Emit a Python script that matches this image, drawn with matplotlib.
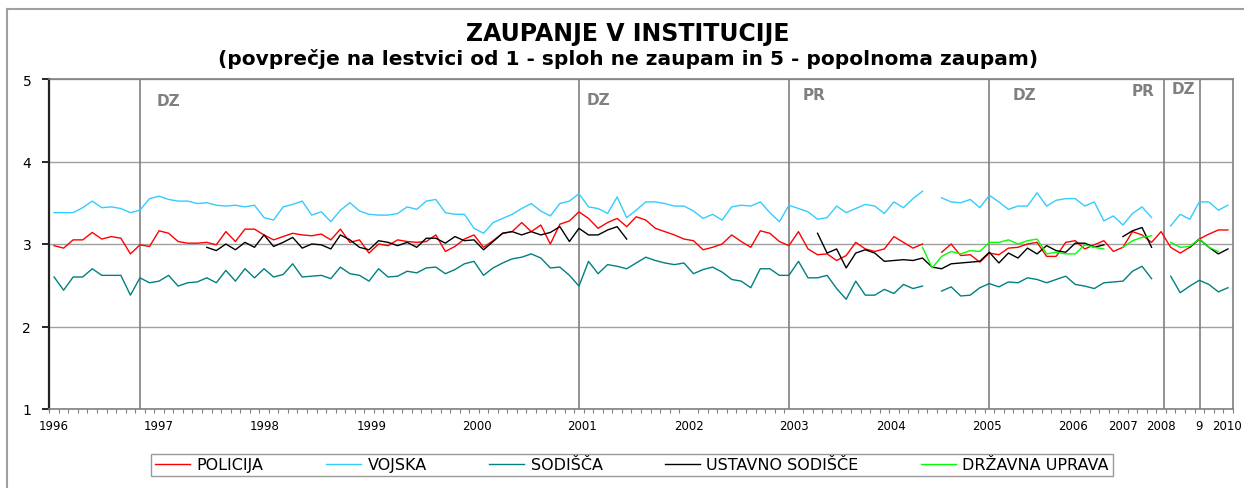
import numpy as np
import matplotlib
matplotlib.use("Agg")
import matplotlib.pyplot as plt
from matplotlib.lines import Line2D

nan = np.nan

# one value per survey (124 surveys, 1996 - 2010), nan = no data
policija = [
    2.98, 2.95, 3.05, 3.05, 3.14, 3.06, 3.09, 3.07, 2.88, 2.99,
    2.97, 3.16, 3.13, 3.03, 3.01, 3.01, 3.02, 2.99, 3.15, 3.03,
    3.18, 3.18, 3.11, 3.05, 3.09, 3.13, 3.11, 3.10, 3.12, 3.05,
    3.18, 3.02, 3.05, 2.89, 3.00, 2.98, 3.05, 3.03, 3.02, 3.03,
    3.11, 2.91, 2.97, 3.06, 3.11, 2.96, 3.04, 3.13, 3.15, 3.26,
    3.15, 3.23, 3.00, 3.24, 3.28, 3.39, 3.31, 3.19, 3.26, 3.31,
    3.21, 3.33, 3.29, 3.19, 3.15, 3.11, 3.06, 3.04, 2.93, 2.96,
    3.00, 3.11, 3.03, 2.96, 3.16, 3.13, 3.03, 2.98, 3.15, 2.94,
    2.87, 2.88, 2.80, 2.86, 3.02, 2.94, 2.91, 2.94, 3.09, 3.02,
    2.95, 3.00, nan, 2.90, 3.00, 2.86, 2.87, 2.78, 2.89, 2.87,
    2.95, 2.96, 3.00, 3.02, 2.85, 2.85, 3.02, 3.04, 2.94, 2.99,
    3.04, 2.91, 2.96, 3.15, 3.11, 3.02, 3.15, 2.96, 2.89, 2.96,
    3.06, 3.12, 3.17, 3.17,
]
vojska = [
    3.38, 3.38, 3.38, 3.44, 3.52, 3.44, 3.45, 3.43, 3.38, 3.41,
    3.55, 3.58, 3.54, 3.52, 3.52, 3.49, 3.50, 3.47, 3.46, 3.47,
    3.45, 3.47, 3.32, 3.29, 3.45, 3.48, 3.52, 3.35, 3.39, 3.27,
    3.41, 3.50, 3.40, 3.36, 3.35, 3.35, 3.37, 3.45, 3.42, 3.52,
    3.54, 3.38, 3.36, 3.36, 3.19, 3.13, 3.26, 3.31, 3.36, 3.43,
    3.49, 3.40, 3.34, 3.49, 3.52, 3.61, 3.45, 3.43, 3.37, 3.57,
    3.32, 3.41, 3.51, 3.51, 3.49, 3.46, 3.46, 3.40, 3.31, 3.36,
    3.29, 3.45, 3.47, 3.46, 3.51, 3.38, 3.27, 3.47, 3.43, 3.39,
    3.30, 3.32, 3.46, 3.38, 3.43, 3.48, 3.46, 3.37, 3.51, 3.44,
    3.55, 3.64, nan, 3.56, 3.51, 3.50, 3.54, 3.44, 3.59, 3.51,
    3.42, 3.46, 3.46, 3.62, 3.46, 3.53, 3.55, 3.55, 3.46, 3.51,
    3.28, 3.34, 3.23, 3.37, 3.45, 3.32, nan, 3.22, 3.36, 3.30,
    3.51, 3.51, 3.41, 3.47,
]
sodisca = [
    2.60, 2.44, 2.60, 2.60, 2.70, 2.62, 2.62, 2.62, 2.38, 2.59,
    2.53, 2.55, 2.62, 2.49, 2.53, 2.54, 2.59, 2.53, 2.68, 2.55,
    2.70, 2.59, 2.70, 2.60, 2.63, 2.76, 2.60, 2.61, 2.62, 2.58,
    2.72, 2.64, 2.62, 2.55, 2.70, 2.60, 2.61, 2.67, 2.65, 2.71,
    2.72, 2.64, 2.69, 2.76, 2.79, 2.62, 2.71, 2.77, 2.82, 2.84,
    2.88, 2.83, 2.71, 2.72, 2.62, 2.49, 2.79, 2.64, 2.75, 2.73,
    2.70, 2.77, 2.84, 2.80, 2.77, 2.75, 2.77, 2.64, 2.69, 2.72,
    2.66, 2.57, 2.55, 2.47, 2.70, 2.70, 2.62, 2.62, 2.79, 2.59,
    2.59, 2.62, 2.46, 2.33, 2.55, 2.38, 2.38, 2.45, 2.40, 2.51,
    2.46, 2.49, nan, 2.43, 2.48, 2.37, 2.38, 2.47, 2.52, 2.48,
    2.54, 2.53, 2.59, 2.57, 2.53, 2.57, 2.61, 2.51, 2.49, 2.46,
    2.53, 2.54, 2.55, 2.67, 2.73, 2.58, nan, 2.61, 2.41, 2.49,
    2.56, 2.51, 2.42, 2.47,
]
ustavno = [
    nan, nan, nan, nan, nan, nan, nan, nan, nan, nan,
    nan, nan, nan, nan, nan, nan, 2.96, 2.92, 3.00, 2.93,
    3.02, 2.96, 3.11, 2.97, 3.02, 3.08, 2.95, 3.00, 2.99, 2.94,
    3.11, 3.05, 2.96, 2.93, 3.04, 3.02, 2.98, 3.02, 2.96, 3.07,
    3.07, 3.01, 3.09, 3.04, 3.05, 2.93, 3.03, 3.13, 3.15, 3.11,
    3.15, 3.11, 3.14, 3.21, 3.03, 3.19, 3.11, 3.11, 3.17, 3.21,
    3.06, nan, nan, nan, nan, nan, nan, nan, nan, nan,
    nan, nan, nan, nan, nan, nan, nan, nan, nan, nan,
    3.13, 2.89, 2.94, 2.71, 2.89, 2.93, 2.89, 2.79, 2.80, 2.81,
    2.80, 2.83, 2.72, 2.70, 2.76, 2.77, 2.78, 2.79, 2.90, 2.77,
    2.89, 2.83, 2.95, 2.88, 2.98, 2.92, 2.90, 3.01, 3.01, 2.96,
    2.99, nan, 3.09, 3.16, 3.20, 2.96, nan, nan, nan, 2.96,
    3.06, 2.96, 2.88, 2.94,
]
uprava = [nan] * 91 + [
    2.96, 2.71, 2.85, 2.91, 2.88, 2.92, 2.91, 3.02, 3.02,
    3.05, 3.00, 3.04, 3.06, 2.88, 2.90, 2.88, 2.88, 2.99, 2.96,
    2.94, nan, 2.96, 3.04, 3.08, 3.10, nan, 3.02, 2.96, 2.97,
    3.06, 2.96, 2.91, nan,
]

series = [
    ("POLICIJA", policija, "#ff0000"),
    ("VOJSKA", vojska, "#33ccff"),
    ("SODIŠČA", sodisca, "#008080"),
    ("USTAVNO SODIŠČE", ustavno, "#000000"),
    ("DRŽAVNA UPRAVA", uprava, "#00ff00"),
]

year_labels = ["1996", "1997", "1998", "1999", "2000", "2001", "2002", "2003",
               "2004", "2005", "2006", "2007", "2008", "9", "2010"]
year_pos = [0, 11, 22.1, 33.3, 44.3, 55.3, 66.5, 77.5,
            87.7, 97.8, 106.8, 112, 116, 120, 122.9]

# elections: DZ = parliament, PR = president
event_pos = [9, 55, 77, 98, 116.35, 120.06]
event_labels = [("DZ", 10.7, 4.685), ("DZ", 55.8, 4.70), ("PR", 78.4, 4.76),
                ("DZ", 100.4, 4.76), ("PR", 112.9, 4.81), ("DZ", 117.1, 4.83)]

n = len(policija)
x = np.arange(n)

W, H = 1244, 489
fig = plt.figure(figsize=(W / 100, H / 100), dpi=100)
ax = fig.add_axes([49.3 / W, 1 - 410 / H, (1232.7 - 49.3) / W, 330 / H])

for name, vals, col in series:
    ax.plot(x, vals, color=col, lw=1.0, label=name)

for p in event_pos:
    ax.axvline(p, color="#808080", lw=1.2, zorder=1)
for txt, ex, ey in event_labels:
    ax.text(ex, ey, txt, color="#808080", fontsize=11, fontweight="bold",
            ha="left", va="baseline")

ax.set_xlim(-0.5, n - 0.5)
ax.set_ylim(1, 5)
ax.set_yticks([1, 2, 3, 4, 5])
ax.grid(axis="y", color="#a0a0a0", lw=1.0)
ax.set_axisbelow(True)

ax.set_xticks(year_pos)
ax.set_xticklabels(year_labels, fontsize=8.5)
ax.set_xticks(np.arange(n + 1) - 0.5, minor=True)
ax.tick_params(axis="x", which="major", length=0, pad=7)
ax.tick_params(axis="x", which="minor", length=3, color="#808080", width=0.8)
ax.tick_params(axis="y", length=5, width=1.2, labelsize=10, pad=8)

for s in ("top", "right", "bottom"):
    ax.spines[s].set_color("#808080")
    ax.spines[s].set_linewidth(1.2)
ax.spines["left"].set_color("#222222")
ax.spines["left"].set_linewidth(1.6)

fig.text(0.505, 1 - 40.7 / H, "ZAUPANJE V INSTITUCIJE", ha="center",
         va="baseline", fontsize=17, fontweight="bold")
fig.text(0.505, 1 - 65 / H,
         "(povprečje na lestvici od 1 - sploh ne zaupam in 5 - popolnoma zaupam)",
         ha="center", va="baseline", fontsize=14.5, fontweight="bold")

handles = [Line2D([], [], color=c, lw=1.0) for _, _, c in series]
leg = fig.legend(handles, [s[0] for s in series], loc="center",
                 bbox_to_anchor=(632 / W, 1 - 466 / H), ncol=5, fontsize=11.5,
                 frameon=True, fancybox=False, edgecolor="#808080",
                 handlelength=2.2, handletextpad=0.4, columnspacing=3.9,
                 borderpad=0.25)
leg.get_frame().set_linewidth(1.0)

# outer chart border (left and top edges visible)
fig.add_artist(Line2D([7 / W, 7 / W], [0, 1 - 10 / H], color="#a0a0a0", lw=1.5))
fig.add_artist(Line2D([7 / W, 1], [1 - 10 / H, 1 - 10 / H], color="#a0a0a0", lw=1.5))

fig.savefig("out.png", dpi=100)
